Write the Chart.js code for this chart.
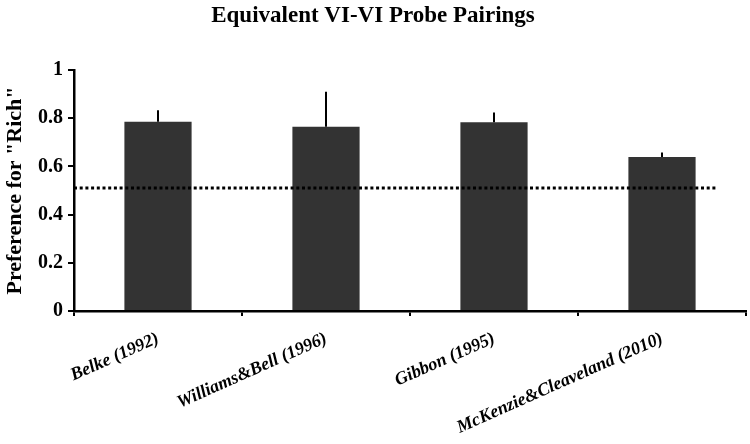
<!DOCTYPE html>
<html>
<head>
<meta charset="utf-8">
<script src="https://cdn.jsdelivr.net/npm/chart.js@4/dist/chart.umd.min.js"></script>
<style>
  html, body { margin: 0; padding: 0; background: #fff; }
  #wrap { width: 750px; height: 444px; }
</style>
</head>
<body>
<div id="wrap"><canvas id="c" width="750" height="444"></canvas></div>
<script>
const categories = ["Belke (1992)", "Williams&Bell (1996)", "Gibbon (1995)", "McKenzie&Cleaveland (2010)"];
const preference = [0.785, 0.765, 0.783, 0.639];
const errorUp = [0.048, 0.145, 0.041, 0.019];
const yTicks = [0, 0.2, 0.4, 0.6, 0.8, 1];
const chanceLevel = 0.51;
const chanceSpan = [-0.5, 3.32];

const serif = "'Liberation Serif', 'Times New Roman', serif";

const errorBarPlugin = {
  id: 'errorBars',
  afterDatasetsDraw(chart) {
    const meta = chart.getDatasetMeta(0);
    const y = chart.scales.y;
    const ctx = chart.ctx;
    ctx.save();
    ctx.strokeStyle = '#000';
    ctx.lineWidth = 2;
    meta.data.forEach((bar, i) => {
      const top = y.getPixelForValue(preference[i] + errorUp[i]);
      const base = y.getPixelForValue(preference[i]);
      ctx.beginPath();
      ctx.moveTo(bar.x, base);
      ctx.lineTo(bar.x, top);
      ctx.stroke();
    });
    ctx.restore();
  }
};

new Chart(document.getElementById('c'), {
  type: 'bar',
  data: {
    labels: categories,
    datasets: [
      {
        type: 'bar',
        data: preference,
        backgroundColor: '#333333',
        borderWidth: 0,
        grouped: false,
        barPercentage: 0.8,
        categoryPercentage: 0.5,
        xAxisID: 'x',
        yAxisID: 'y',
        order: 2
      },
      {
        type: 'line',
        data: chanceSpan.map(v => ({ x: v, y: chanceLevel })),
        borderColor: '#000',
        borderWidth: 3,
        borderDash: [3, 2.7],
        pointRadius: 0,
        fill: false,
        xAxisID: 'xl',
        yAxisID: 'y',
        order: 1
      }
    ]
  },
  options: {
    responsive: false,
    animation: false,
    layout: { padding: { left: 0, right: 4, top: 0, bottom: 0 } },
    plugins: {
      legend: { display: false },
      tooltip: { enabled: false },
      title: {
        display: true,
        text: 'Equivalent VI-VI Probe Pairings',
        color: '#000',
        font: { family: serif, size: 23, weight: 'bold' },
        padding: { top: 2, bottom: 40.4 }
      }
    },
    scales: {
      x: {
        type: 'category',
        offset: true,
        grid: {
          offset: true,
          drawOnChartArea: false,
          drawTicks: true,
          tickLength: 5,
          color: '#000',
          lineWidth: 2
        },
        border: { display: true, color: '#000', width: 2.5 },
        ticks: {
          color: '#000',
          font: { family: serif, size: 18, weight: 'bold', style: 'italic' },
          minRotation: 24,
          maxRotation: 24,
          autoSkip: false,
          padding: 12
        },
        afterFit(s) { s.height = 133; }
      },
      xl: {
        type: 'linear',
        display: false,
        offset: false,
        grid: { offset: false },
        min: -0.5,
        max: 3.5
      },
      y: {
        min: 0,
        max: 1,
        afterBuildTicks(s) { s.ticks = yTicks.map(v => ({ value: v })); },
        grid: {
          drawOnChartArea: false,
          drawTicks: true,
          tickLength: 6,
          color: '#000',
          lineWidth: 2
        },
        border: { display: true, color: '#000', width: 2.5 },
        ticks: {
          color: '#000',
          font: { family: serif, size: 20, weight: 'bold' },
          padding: 5,
          callback: v => String(v)
        },
        title: {
          display: true,
          text: 'Preference for "Rich"',
          color: '#000',
          font: { family: serif, size: 22, weight: 'bold' },
          padding: { top: 2, bottom: 0 }
        },
        afterFit(s) { s.width = 74; }
      }
    }
  },
  plugins: [errorBarPlugin]
});
</script>
</body>
</html>
